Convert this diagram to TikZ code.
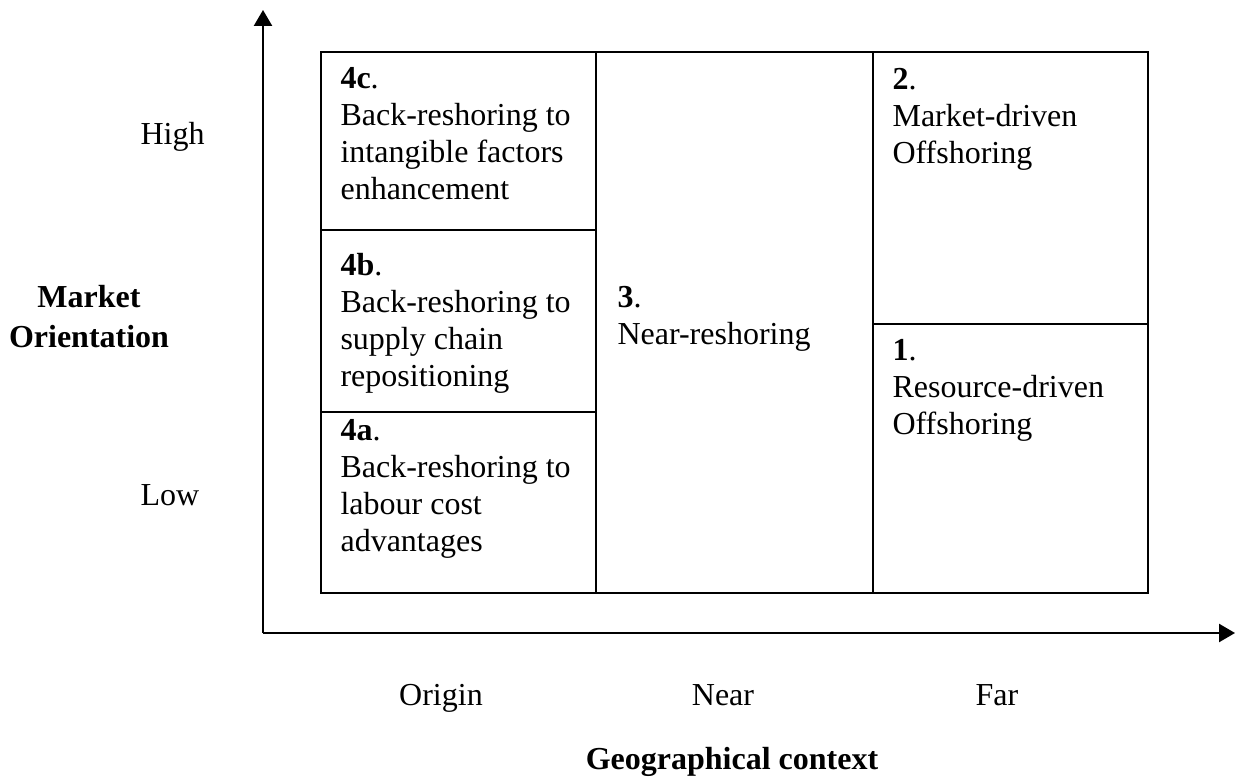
\documentclass[tikz,border=0pt]{standalone}
\usepackage{fontspec}
\setmainfont{Liberation Serif}
\usepackage{tikz}
\usetikzlibrary{arrows.meta, positioning}

\begin{document}
\begin{tikzpicture}[
  x=0.375pt, y=-0.375pt,
  cell/.style={anchor=north west, inner sep=0pt, align=left,
               font=\fontsize{12}{13.9}\selectfont},
  lbl/.style={anchor=base, inner sep=0pt, font=\fontsize{12}{13.9}\selectfont},
  grid/.style={line width=0.75pt, black},
  ax/.style={line width=0.75pt, -{Triangle[length=6pt, width=6.8pt]}}
]
\useasboundingbox (0,0) rectangle (1235,776);
%% Axes
\coordinate (O) at (263,633);
\coordinate (ytip) at (263,10);
\coordinate (xtip) at (1235,633);
\draw[ax] (O) -- (ytip);
\draw[ax] (O) -- (xtip);
%% Grid
\draw[grid] (321,52) rectangle (1148,593);
\draw[grid] (596,52) -- (596,593);
\draw[grid] (873,52) -- (873,593);
\draw[grid] (321,230) -- (596,230);
\draw[grid] (321,412) -- (596,412);
\draw[grid] (873,324) -- (1148,324);
%% Cells
\node[cell] (c4c) at (340,62)  {\strut\textbf{4c}.\\Back-reshoring to\\intangible factors\\enhancement};
\node[cell] (c4b) at (340,249) {\strut\textbf{4b}.\\Back-reshoring to\\supply chain\\repositioning};
\node[cell] (c4a) at (340,414) {\strut\textbf{4a}.\\Back-reshoring to\\labour cost\\advantages};
\node[cell] (c3)  at (617,281) {\strut\textbf{3}.\\Near-reshoring};
\node[cell] (c2)  at (892,63)  {\strut\textbf{2}.\\Market-driven\\Offshoring};
\node[cell] (c1)  at (892,334) {\strut\textbf{1}.\\Resource-driven\\Offshoring};
%% Vertical axis labels
\node[lbl, anchor=base west] (high) at (140,145) {High};
\node[lbl, anchor=base west] (low)  at (140,505) {Low};
\node[cell, anchor=north, align=center, font=\fontsize{12}{15}\selectfont\bfseries]
  (morient) at (89,279) {\strut Market\\Orientation};
%% Horizontal axis labels
\node[lbl] (origin) at (441,705) {Origin};
\node[lbl] (near)   at (723,705) {Near};
\node[lbl] (far)    at (997,705) {Far};
\node[lbl, font=\fontsize{12}{13.9}\selectfont\bfseries] (geo) at (732,769) {Geographical context};
\end{tikzpicture}
\end{document}
